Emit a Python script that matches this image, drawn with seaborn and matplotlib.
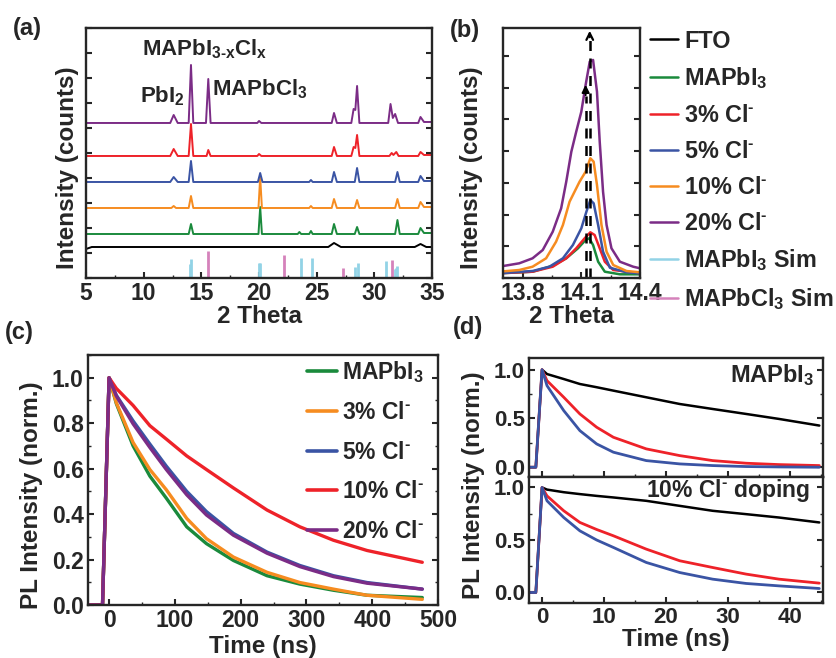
import seaborn as sns
import matplotlib.pyplot as plt
import pandas as pd
from matplotlib.lines import Line2D
from matplotlib.ticker import MultipleLocator, NullFormatter

# ---------------- (a) XRD patterns (2 theta, counts in arbitrary units) ----------------
xrd_purple_x = [5, 12.3, 12.6, 12.95, 13.9, 14.1, 14.3, 15.4, 15.6, 15.8, 19.85, 20.0, 20.2, 26.3, 26.5, 26.75,
                28.0, 28.2, 28.35, 28.5, 28.7, 31.2, 31.4, 31.6, 31.8, 32.05, 33.8, 34.0, 34.3, 35]
xrd_purple_y = [155, 155, 163, 155, 155, 213, 155, 155, 199, 155, 155, 157, 155, 155, 165, 155,
                155, 169, 168, 192, 155, 155, 174, 160, 164, 155, 155, 161, 156, 156]
xrd_red_x = [5, 12.3, 12.6, 12.95, 13.9, 14.1, 14.3, 15.45, 15.6, 15.8, 19.85, 20.0, 20.2, 26.3, 26.5, 26.75,
             28.0, 28.2, 28.35, 28.5, 28.7, 31.3, 31.5, 31.65, 31.9, 32.1, 33.8, 34.0, 34.3, 35]
xrd_red_y = [122, 122, 129, 122, 122, 154, 122, 122, 128, 122, 122, 124, 122, 122, 131, 122,
             122, 131, 130, 143, 122, 122, 125, 123, 126, 122, 122, 126, 123, 123]
xrd_blue_x = [5, 12.3, 12.6, 12.95, 13.9, 14.1, 14.3, 19.9, 20.1, 20.3, 24.35, 24.5, 24.65, 26.3, 26.5, 26.75,
              28.3, 28.5, 28.7, 31.8, 32.0, 32.2, 33.8, 34.0, 34.3, 35]
xrd_blue_y = [96, 96, 101, 96, 96, 117, 96, 96, 105, 96, 96, 98, 96, 96, 106, 96,
              96, 110, 96, 96, 106, 96, 96, 102, 97, 97]
xrd_orange_x = [5, 12.4, 12.6, 12.8, 13.9, 14.1, 14.3, 19.95, 20.1, 20.25, 24.35, 24.5, 24.65, 26.3, 26.5, 26.75,
                28.3, 28.5, 28.7, 31.8, 32.0, 32.2, 33.8, 34.0, 34.3, 35]
xrd_orange_y = [70, 70, 72, 70, 70, 82, 70, 70, 101, 70, 70, 72, 70, 70, 79, 70,
                70, 78, 70, 70, 79, 70, 70, 76, 71, 71]
xrd_green_x = [5, 13.9, 14.1, 14.3, 19.95, 20.1, 20.25, 23.35, 23.5, 23.65, 24.35, 24.5, 24.65, 26.3, 26.5, 26.75,
               28.3, 28.5, 28.7, 31.8, 32.0, 32.2, 33.8, 34.0, 34.3, 35]
xrd_green_y = [44, 44, 54, 44, 44, 71, 44, 44, 46, 44, 44, 47, 44, 44, 54, 44,
               44, 51, 44, 44, 58, 44, 44, 50, 45, 45]
xrd_fto_x = [5, 5.5, 26.0, 26.5, 27.1, 33.5, 34.0, 34.5, 35]
xrd_fto_y = [29, 31, 31, 35, 31, 31, 34, 31, 31]

sim_pbi_pos = [14.0, 14.1, 20.0, 20.1, 23.6, 24.6, 28.3, 28.6, 31.0, 31.8, 31.9, 32.0]
sim_pbi_h = [14, 19, 15, 15, 20, 20, 11, 15, 17, 9, 10, 12]
sim_pbcl_pos = [15.6, 22.2, 27.3, 31.5]
sim_pbcl_h = [27, 23, 10, 18]

# ---------------- (b) zoom on the (110) peak ----------------
b_green_x = [13.68, 13.851, 13.954, 14.023, 14.083, 14.122, 14.14, 14.16, 14.186, 14.22, 14.297, 14.4]
b_green_y = [4.7, 6.3, 12.3, 19.7, 29.7, 38, 39.7, 33, 16.3, 6.3, 3.7, 3.7]
b_red_x = [13.68, 13.851, 13.954, 14.023, 14.074, 14.117, 14.146, 14.168, 14.194, 14.22, 14.263, 14.4]
b_red_y = [4.7, 6.3, 11.3, 19.7, 29.7, 39.7, 45.7, 43, 29.7, 16.3, 8, 4.7]
b_blue_x = [13.68, 13.851, 13.937, 14.006, 14.057, 14.1, 14.126, 14.146, 14.163, 14.186, 14.211, 14.246,
            14.331, 14.4]
b_blue_y = [4.7, 7, 11.3, 19.7, 33, 49.7, 66.3, 78, 74.7, 53, 26.3, 10.3, 5.7, 4.7]
b_orange_x = [13.68, 13.783, 13.851, 13.92, 13.971, 14.006, 14.04, 14.091, 14.122, 14.146, 14.163, 14.18,
              14.203, 14.229, 14.263, 14.331, 14.4]
b_orange_y = [6.3, 8, 11.3, 19.7, 36.3, 53, 76.3, 96.3, 106.3, 119.7, 116.3, 93,
              53, 26.3, 13, 7, 5.7]
b_purple_x = [13.68, 13.783, 13.851, 13.903, 13.954, 13.997, 14.023, 14.049, 14.074, 14.1, 14.122, 14.143,
              14.16, 14.18, 14.194, 14.211, 14.229, 14.254, 14.297, 14.365, 14.4]
b_purple_y = [11.3, 14.7, 19.7, 28, 46.3, 69.7, 96.3, 126.3, 146.3, 166.3, 193, 216.3,
              218, 186.3, 136.3, 86.3, 53, 29.7, 16.3, 11.3, 9.7]
b_arrow_short = 14.122
b_arrow_long = 14.143

# ---------------- (c) TRPL decays ----------------
c_time = [-32, -10, 0, 11, 36.5, 62, 87, 118, 148, 189, 240, 290, 341, 392, 476]
c_mapbi3 = [0, 0, 1.0, 0.886, 0.70, 0.567, 0.47, 0.344, 0.27, 0.196, 0.129, 0.092, 0.065, 0.043, 0.033]
c_cl3 = [0, 0, 1.0, 0.89, 0.715, 0.596, 0.507, 0.381, 0.292, 0.211, 0.144, 0.099, 0.07, 0.043, 0.025]
c_cl5 = [0, 0, 1.0, 0.923, 0.81, 0.708, 0.611, 0.5, 0.411, 0.315, 0.233, 0.174, 0.129, 0.099, 0.07]
c_cl10 = [0, 0, 1.0, 0.953, 0.878, 0.789, 0.73, 0.656, 0.596, 0.515, 0.418, 0.344, 0.285, 0.24, 0.188]
c_cl20 = [0, 0, 1.0, 0.92, 0.797, 0.693, 0.596, 0.485, 0.396, 0.307, 0.228, 0.169, 0.125, 0.096, 0.07]
c_labels = [r'MAPbI$_3$', r'3% Cl$^{\text{-}}$', r'5% Cl$^{\text{-}}$', r'10% Cl$^{\text{-}}$',
            r'20% Cl$^{\text{-}}$']

# ---------------- (d) short time window ----------------
d_time = [-2.1, -1.0, 0, 0.8, 3.5, 6.1, 8.8, 11.5, 16.8, 22.2, 27.5, 32.9, 38.2, 44.7]
d_top_black = [0, 0, 1.0, 0.955, 0.904, 0.853, 0.82, 0.785, 0.717, 0.648, 0.597, 0.546, 0.495, 0.427]
d_top_red = [0, 0, 1.0, 0.887, 0.717, 0.546, 0.41, 0.307, 0.188, 0.119, 0.068, 0.041, 0.027, 0.017]
d_top_blue = [0, 0, 1.0, 0.836, 0.58, 0.375, 0.239, 0.154, 0.068, 0.034, 0.017, 0.007, 0.003, 0.0]
d_bot_black = [0, 0, 1.0, 0.98, 0.955, 0.937, 0.92, 0.905, 0.873, 0.825, 0.778, 0.746, 0.714, 0.667]
d_bot_red = [0, 0, 1.0, 0.92, 0.778, 0.667, 0.6, 0.54, 0.413, 0.302, 0.238, 0.175, 0.127, 0.089]
d_bot_blue = [0, 0, 1.0, 0.873, 0.714, 0.587, 0.5, 0.429, 0.286, 0.19, 0.127, 0.086, 0.063, 0.038]

GREEN = '#1a8a3c'
RED = '#ee2229'
BLUE = '#3a54a4'
ORANGE = '#f68c20'
PURPLE = '#7b2c86'
CYAN = '#92d3e6'
PINK = '#d582bb'

sns.set_theme(style='ticks')
plt.rcParams['font.family'] = ['Liberation Sans', 'DejaVu Sans']
plt.rcParams.update({
    'font.weight': 'bold',
    'axes.labelweight': 'bold',
    'axes.linewidth': 1.7,
    'mathtext.fontset': 'custom',
    'mathtext.rm': 'Liberation Sans:bold',
    'mathtext.it': 'Liberation Sans:bold',
    'mathtext.bf': 'Liberation Sans:bold',
    'mathtext.sf': 'Liberation Sans:bold',
    'mathtext.default': 'rm',
    'xtick.direction': 'in',
    'ytick.direction': 'in',
})

fig = plt.figure(figsize=(8.36, 6.58), dpi=100)
ax_a = fig.add_axes([0.1029, 0.5775, 0.4139, 0.380])
ax_b = fig.add_axes([0.6017, 0.5775, 0.1639, 0.380])
ax_c = fig.add_axes([0.1053, 0.0805, 0.4187, 0.380])
ax_d1 = fig.add_axes([0.6328, 0.2751, 0.3517, 0.1809])
ax_d2 = fig.add_axes([0.6328, 0.0836, 0.3517, 0.1915])

LW = 1.4
TICK_FS = 16.5
LAB_FS = 17.5


def style_ticks(ax, size=TICK_FS):
    ax.tick_params(which='major', length=4, width=1.5, labelsize=size, right=True, pad=3)
    ax.tick_params(which='minor', length=2, width=1.0, right=True)


# ---- (a)
for xs, ys, col in [(xrd_fto_x, xrd_fto_y, 'black'), (xrd_green_x, xrd_green_y, GREEN),
                    (xrd_orange_x, xrd_orange_y, ORANGE), (xrd_blue_x, xrd_blue_y, BLUE),
                    (xrd_red_x, xrd_red_y, RED), (xrd_purple_x, xrd_purple_y, PURPLE)]:
    sns.lineplot(x=xs, y=ys, ax=ax_a, color=col, lw=LW, sort=False, estimator=None)
ax_a.vlines(sim_pbi_pos, 0, sim_pbi_h, color=CYAN, lw=2)
ax_a.vlines(sim_pbcl_pos, 0, sim_pbcl_h, color=PINK, lw=2)
ax_a.set_xlim(5, 35)
ax_a.set_ylim(0, 250)
ax_a.xaxis.set_major_locator(MultipleLocator(5))
ax_a.xaxis.set_minor_locator(MultipleLocator(2.5))
ax_a.yaxis.set_major_locator(MultipleLocator(25))
ax_a.yaxis.set_major_formatter(NullFormatter())
style_ticks(ax_a)
ax_a.set_xlabel('2 Theta', fontsize=LAB_FS, labelpad=0)
ax_a.set_ylabel('Intensity (counts)', fontsize=LAB_FS)
ax_a.yaxis.set_label_coords(-0.02, 0.44)
ax_a.text(9.85, 229, r'MAPbI$_{3\text{-}x}$Cl$_x$', fontsize=16, va='center')
ax_a.text(9.7, 182, r'PbI$_2$', fontsize=16, va='center')
ax_a.text(15.95, 189, r'MAPbCl$_3$', fontsize=16, va='center')

# ---- (b)
for xs, ys, col in [(b_green_x, b_green_y, GREEN), (b_red_x, b_red_y, RED), (b_blue_x, b_blue_y, BLUE),
                    (b_orange_x, b_orange_y, ORANGE), (b_purple_x, b_purple_y, PURPLE)]:
    sns.lineplot(x=xs, y=ys, ax=ax_b, color=col, lw=1.8, sort=False, estimator=None)
ax_b.plot([b_arrow_long, b_arrow_long], [0, 240], color='black', lw=1.8, dashes=(4, 3))
ax_b.annotate('', xy=(b_arrow_long, 250), xytext=(b_arrow_long, 238),
              arrowprops=dict(arrowstyle='->', color='black', lw=1.6))
ax_b.plot([b_arrow_short, b_arrow_short], [0, 182], color='black', lw=1.8, dashes=(4, 3))
ax_b.annotate('', xy=(b_arrow_short, 196), xytext=(b_arrow_short, 180),
              arrowprops=dict(arrowstyle='-|>', color='black', lw=1.4, mutation_scale=11))
ax_b.set_xlim(13.7, 14.4)
ax_b.set_ylim(0, 250)
ax_b.set_xticks([13.8, 14.1, 14.4])
ax_b.xaxis.set_minor_locator(MultipleLocator(0.15))
ax_b.yaxis.set_major_locator(MultipleLocator(31.7))
ax_b.yaxis.set_major_formatter(NullFormatter())
style_ticks(ax_b)
ax_b.set_xlabel('2 Theta', fontsize=LAB_FS, labelpad=0)
ax_b.set_ylabel('Intensity (counts)', fontsize=LAB_FS)
ax_b.yaxis.set_label_coords(-0.146, 0.44)

xrd_handles = [Line2D([], [], color=c, lw=1.8) for c in
               ['black', GREEN, RED, BLUE, ORANGE, PURPLE, CYAN, PINK]]
xrd_labels = ['FTO', r'MAPbI$_3$', r'3% Cl$^{\text{-}}$', r'5% Cl$^{\text{-}}$', r'10% Cl$^{\text{-}}$',
              r'20% Cl$^{\text{-}}$', r'MAPbI$_3$ Sim', r'MAPbCl$_3$ Sim']
fig.legend(xrd_handles, xrd_labels, loc='upper left', bbox_to_anchor=(0.778, 0.955), frameon=False,
           fontsize=16.8, handlelength=1.2, handletextpad=0.25, labelspacing=0.55, borderpad=0,
           borderaxespad=0)

# ---- (c)
c_df = pd.DataFrame({'t': c_time * 5,
                     'v': c_mapbi3 + c_cl3 + c_cl5 + c_cl10 + c_cl20,
                     's': [lab for lab in c_labels for _ in c_time]})
c_palette = dict(zip(c_labels, [GREEN, ORANGE, BLUE, RED, PURPLE]))
sns.lineplot(data=c_df, x='t', y='v', hue='s', palette=c_palette, ax=ax_c, lw=2.4, estimator=None)
ax_c.set_xlim(-32, 500)
ax_c.set_ylim(0, 1.1)
ax_c.xaxis.set_major_locator(MultipleLocator(100))
ax_c.xaxis.set_minor_locator(MultipleLocator(50))
ax_c.yaxis.set_major_locator(MultipleLocator(0.2))
ax_c.yaxis.set_minor_locator(MultipleLocator(0.1))
ax_c.yaxis.set_major_formatter(plt.FormatStrFormatter('%.1f'))
style_ticks(ax_c)
ax_c.set_xlabel('Time (ns)', fontsize=LAB_FS, labelpad=2)
ax_c.set_ylabel('PL Intensity (norm.)', fontsize=LAB_FS)
ax_c.yaxis.set_label_coords(-0.129, 0.44)
leg = ax_c.legend(loc='upper left', bbox_to_anchor=(0.625, 0.985), frameon=False, fontsize=16.5,
                  handlelength=1.3, handletextpad=0.25, labelspacing=0.72, borderpad=0, borderaxespad=0)
for h in leg.get_lines():
    h.set_linewidth(2.6)

# ---- (d)
for ax, blk, red, blu in [(ax_d1, d_top_black, d_top_red, d_top_blue),
                          (ax_d2, d_bot_black, d_bot_red, d_bot_blue)]:
    sns.lineplot(x=d_time, y=blk, ax=ax, color='black', lw=1.8)
    sns.lineplot(x=d_time, y=red, ax=ax, color=RED, lw=2.0)
    sns.lineplot(x=d_time, y=blu, ax=ax, color=BLUE, lw=2.0)
    ax.set_xlim(-2.1, 45.3)
    ax.xaxis.set_major_locator(MultipleLocator(10))
    ax.xaxis.set_minor_locator(MultipleLocator(5))
    ax.yaxis.set_major_locator(MultipleLocator(0.5))
    ax.yaxis.set_minor_locator(MultipleLocator(0.25))
    ax.yaxis.set_major_formatter(plt.FormatStrFormatter('%.1f'))
    style_ticks(ax, 16)
ax_d1.set_ylim(-0.1, 1.12)
ax_d2.set_ylim(-0.1, 1.1)
ax_d1.tick_params(labelbottom=False)
ax_d2.set_xlabel('Time (ns)', fontsize=LAB_FS, labelpad=0)
ax_d1.text(0.97, 0.86, r'MAPbI$_3$', transform=ax_d1.transAxes, ha='right', va='center', fontsize=17)
ax_d2.text(0.955, 0.89, r'10% Cl$^{\text{-}}$ doping', transform=ax_d2.transAxes, ha='right', va='center',
           fontsize=16.5)
fig.text(0.566, 0.263, 'PL Intensity (norm.)', rotation=90, ha='center', va='center', fontsize=LAB_FS)

# panel labels
fig.text(0.015, 0.957, '(a)', fontsize=17, va='center')
fig.text(0.538, 0.954, '(b)', fontsize=17, va='center')
fig.text(0.006, 0.495, '(c)', fontsize=17, va='center')
fig.text(0.542, 0.503, '(d)', fontsize=17, va='center')

plt.savefig('out.png', dpi=100)
